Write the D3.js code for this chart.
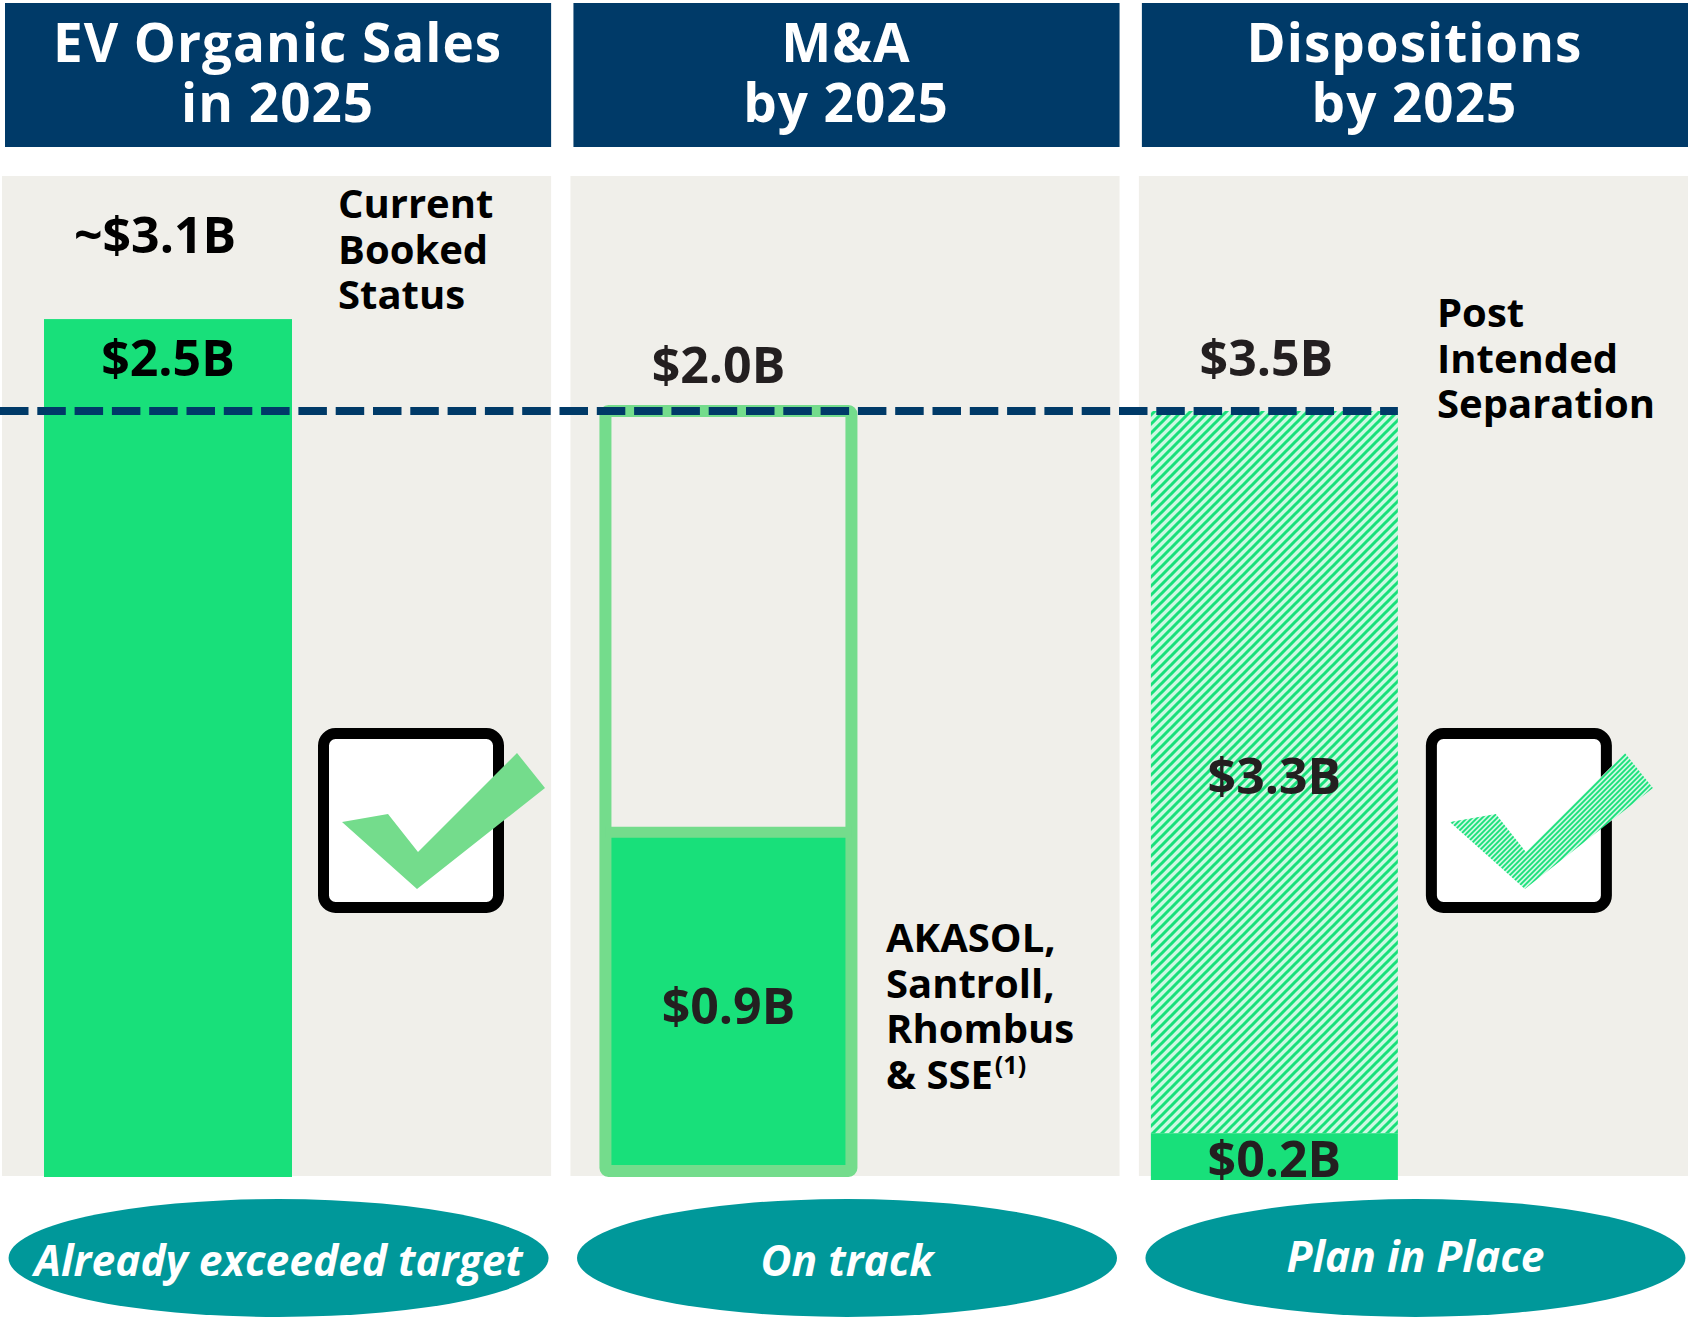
<!DOCTYPE html>
<html>
<head>
<meta charset="utf-8">
<script src="https://cdn.jsdelivr.net/npm/d3@7"></script>
<style>
  body { margin: 0; background: #fff; }
  text { font-family: "Open Sans", "DejaVu Sans", sans-serif; }
</style>
</head>
<body>
<div id="dataviz"></div>
<script>
// data
const categories = ["organic", "ma", "disp"];
const headerLines = [["EV Organic Sales", "in 2025"], ["M&A", "by 2025"], ["Dispositions", "by 2025"]];
const targets = [2.5, 2.0, 3.5];          // level of the dashed line in each panel ($B)
const achieved = [2.8, 0.9, 0.2];         // solid green bar ($B, panel 1)
const targetLabels = ["$2.5B", "$2.0B", "$3.5B"];
const achievedLabels = ["", "$0.9B", "$0.2B"];
const bookedLabel = "~$3.1B";
const plannedLabel = "$3.3B";
const notes = [["Current", "Booked", "Status"], ["AKASOL,", "Santroll,", "Rhombus", "& SSE"], ["Post", "Intended", "Separation"]];
const statusLabels = ["Already exceeded target", "On track", "Plan in Place"];

const width = 1691, height = 1321;
const navy = "#003a68", green = "#18e07a", lightGreen = "#74dc8c", mint = "#cdf9e2",
      teal = "#00989a", panelGray = "#f0efea", ink = "#231f20";

const svg = d3.select("#dataviz").append("svg")
    .attr("width", width)
    .attr("height", height);

const defs = svg.append("defs");
const hatch = defs.append("pattern")
    .attr("id", "hatch").attr("patternUnits", "userSpaceOnUse")
    .attr("width", 9).attr("height", 9);
hatch.append("rect").attr("width", 9).attr("height", 9).attr("fill", mint);
hatch.append("path").attr("d", "M-1,10 L10,-1 M-3,3 L3,-3 M6,12 L12,6")
    .attr("stroke", green).attr("stroke-width", 3);
const hatchFine = defs.append("pattern")
    .attr("id", "hatchFine").attr("patternUnits", "userSpaceOnUse")
    .attr("width", 5).attr("height", 5);
hatchFine.append("rect").attr("width", 5).attr("height", 5).attr("fill", mint);
hatchFine.append("path").attr("d", "M-1,6 L6,-1 M-2,2 L2,-2 M3,7 L7,3")
    .attr("stroke", green).attr("stroke-width", 1.8);

// panels
const x = d3.scaleBand().domain(categories).range([2, 1688]).paddingInner(0.034);
const bw = x.bandwidth();
const baseY = 1177, dashY = 411;
const yFor = i => d3.scaleLinear().domain([0, targets[i]]).range([baseY, dashY]);

// bar placement inside each panel: offset from panel left, bar width
const barPos = [{off: 42, w: 248}, {off: 29, w: 258}, {off: 12, w: 247}];
const barX = i => x(categories[i]) + barPos[i].off;

// header boxes
const head = svg.append("g").selectAll("g").data(categories).join("g");
head.append("rect")
    .attr("x", d => x(d) + 3).attr("y", 3)
    .attr("width", bw - 3).attr("height", 144)
    .attr("fill", navy);
head.append("text")
    .attr("text-anchor", "middle")
    .attr("fill", "#fff").attr("font-weight", 700).attr("font-size", 53)
    .attr("letter-spacing", 1)
    .selectAll("tspan").data((d, i) => headerLines[i].map(t => ({t, d})))
    .join("tspan")
    .attr("x", o => x(o.d) + bw / 2 + 1)
    .attr("y", (o, j) => 62 + j * 60)
    .text(o => o.t);

// gray panels
svg.append("g").selectAll("rect").data(categories).join("rect")
    .attr("x", d => x(d)).attr("y", 176)
    .attr("width", bw).attr("height", 1000)
    .attr("fill", panelGray);

// panel 1: organic bar
{
  const y = yFor(0);
  svg.append("rect")
      .attr("x", barX(0)).attr("y", y(achieved[0]))
      .attr("width", barPos[0].w).attr("height", y(0) - y(achieved[0]))
      .attr("fill", green);
}

// panel 2: M&A target outline with achieved fill
{
  const y = yFor(1), sw = 12, bx = barX(1) + sw / 2, w = barPos[1].w - sw;
  svg.append("rect")
      .attr("x", bx).attr("y", y(achieved[1]))
      .attr("width", w).attr("height", y(0) - y(achieved[1]) - sw / 2)
      .attr("fill", green);
  svg.append("rect")
      .attr("x", bx).attr("y", y(targets[1]))
      .attr("width", w).attr("height", y(0) - y(targets[1]) - sw / 2)
      .attr("rx", 3)
      .attr("fill", "none").attr("stroke", lightGreen).attr("stroke-width", sw);
  svg.append("line")
      .attr("x1", bx).attr("x2", bx + w)
      .attr("y1", y(achieved[1])).attr("y2", y(achieved[1]))
      .attr("stroke", lightGreen).attr("stroke-width", 11);
}

// panel 3: dispositions, done + planned (hatched)
{
  const y = yFor(2);
  svg.append("rect")
      .attr("x", barX(2)).attr("y", y(targets[2]))
      .attr("width", barPos[2].w).attr("height", y(achieved[2]) - y(targets[2]))
      .attr("fill", "url(#hatch)");
  svg.append("rect")
      .attr("x", barX(2)).attr("y", y(achieved[2]))
      .attr("width", barPos[2].w).attr("height", y(0) - y(achieved[2]) + 3)
      .attr("fill", green);
}

// dashed target line
svg.append("line")
    .attr("x1", 0).attr("x2", barX(2) + barPos[2].w)
    .attr("y1", dashY).attr("y2", dashY)
    .attr("stroke", navy).attr("stroke-width", 8)
    .attr("stroke-dasharray", "28.5 8.8");

// check boxes (panels 1 and 3)
const boxes = [{i: 0, off: 316, fill: lightGreen}, {i: 2, off: 287, fill: "url(#hatchFine)"}];
const tick = [[24, 94], [70, 86], [100, 124], [199, 25], [227, 60], [99, 161]];
boxes.forEach(b => {
  const bx = x(categories[b.i]) + b.off, by = 728;
  svg.append("rect")
      .attr("x", bx + 5.5).attr("y", by + 5.5)
      .attr("width", 175).attr("height", 174).attr("rx", 12)
      .attr("fill", "#fff").attr("stroke", "#000").attr("stroke-width", 11);
  svg.append("polygon")
      .attr("points", tick.map(p => [bx + p[0], by + p[1]].join(",")).join(" "))
      .attr("fill", b.fill);
});

// value labels
const val = (tx, ty, t) => svg.append("text")
    .attr("x", tx).attr("y", ty).attr("text-anchor", "middle")
    .attr("font-weight", 700).attr("font-size", 50).attr("fill", ink).text(t);

val(barX(0) + barPos[0].w / 2 - 13, 253, bookedLabel).attr("fill", "#000");
val(barX(0) + barPos[0].w / 2, dashY - 35, targetLabels[0]).attr("fill", "#000");
val(barX(1) + barPos[1].w / 2 - 10, dashY - 28, targetLabels[1]);
val(barX(1) + barPos[1].w / 2, (yFor(1)(achieved[1]) + baseY) / 2 + 19, achievedLabels[1]);
val(barX(2) + barPos[2].w / 2 - 8, dashY - 35, targetLabels[2]);
val(barX(2) + barPos[2].w / 2, 794, plannedLabel);
val(barX(2) + barPos[2].w / 2, baseY, achievedLabels[2]);

// side notes, one text per line
const notePos = [{i: 0, x: 338, y: 218}, {i: 1, x: 886, y: 952}, {i: 2, x: 1437, y: 327}];
notePos.forEach(n => {
  notes[n.i].forEach((line, j) => {
    const t = svg.append("text")
        .attr("x", n.x).attr("y", n.y + j * 45.5)
        .attr("font-weight", 700).attr("font-size", 40).attr("fill", "#000")
        .text(line);
    if (n.i === 1 && j === notes[n.i].length - 1) {
      t.append("tspan").attr("font-size", 25).attr("dy", -15).attr("dx", 2).text("(1)");
    }
  });
});

// status ellipses
const st = svg.append("g").selectAll("g").data(categories).join("g");
st.append("ellipse")
    .attr("cx", d => x(d) + bw / 2 + 2).attr("cy", 1258)
    .attr("rx", 270).attr("ry", 59)
    .attr("fill", teal);
st.append("text")
    .attr("x", d => x(d) + bw / 2 + 2).attr("y", (d, i) => i === 2 ? 1272 : 1276)
    .attr("text-anchor", "middle")
    .attr("font-style", "italic").attr("font-weight", 700).attr("font-size", 42.5)
    .attr("fill", "#fff")
    .text((d, i) => statusLabels[i]);
</script>
</body>
</html>
